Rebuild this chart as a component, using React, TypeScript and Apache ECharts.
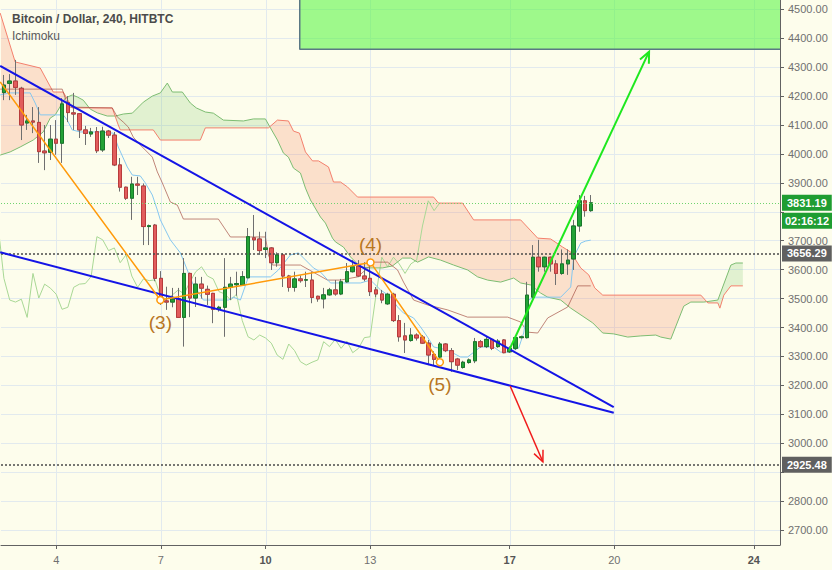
import { useEffect, useRef } from 'react';
import * as echarts from 'echarts';

// ---- time slots: 4h bars, k = 0 is Dec 4 00:00 ----
const SLOT_START_UTC = Date.UTC(2018, 11, 2, 12); // k = -9
const SLOT_HOURS = 4;
const SLOT_COUNT = 134; // k = -9 .. 124
const FIRST_K = -9;
const LABEL_DAYS = [4, 7, 10, 13, 17, 20, 24];
const BOLD_DAYS = [10, 17, 24];
const X_MIN = -9.5;
const X_MAX = 124.5;
const Y_MIN = 2648.3;
const Y_MAX = 4532.1;
// price tick labels hidden behind the price badges
const COVERED_TICKS = [3800, 2900];

// ---- candles (k = -9 .. 92) ----
const opens = [4212, 4244, 4252, 4227, 4107, 4114, 4109, 4010, 4006, 4051, 4037, 4177, 4142, 4139, 4083, 4069, 4077, 4014, 4079, 4065, 3962, 3885, 3847, 3896, 3889, 3749, 3754, 3570, 3492, 3488, 3500, 3435, 3587, 3502, 3550, 3532, 3518, 3463, 3470, 3539, 3548, 3547, 3572, 3710, 3706, 3670, 3675, 3624, 3651, 3578, 3539, 3568, 3564, 3564, 3508, 3499, 3513, 3530, 3516, 3558, 3593, 3612, 3578, 3570, 3530, 3516, 3482, 3515, 3424, 3371, 3355, 3374, 3367, 3346, 3307, 3298, 3343, 3320, 3291, 3262, 3279, 3285, 3351, 3334, 3359, 3334, 3357, 3316, 3328, 3365, 3365, 3505, 3643, 3610, 3643, 3620, 3587, 3620, 3637, 3751, 3838, 3804];
const closes = [4238, 4252, 4230, 4100, 4114, 4110, 4008, 4004, 4051, 4037, 4173, 4143, 4138, 4083, 4071, 4076, 4011, 4079, 4065, 3962, 3885, 3847, 3896, 3892, 3749, 3752, 3570, 3495, 3488, 3498, 3435, 3587, 3502, 3550, 3536, 3515, 3463, 3470, 3539, 3550, 3552, 3576, 3714, 3703, 3666, 3675, 3624, 3651, 3578, 3539, 3568, 3562, 3565, 3504, 3499, 3513, 3530, 3516, 3558, 3593, 3610, 3578, 3568, 3524, 3516, 3495, 3515, 3424, 3368, 3357, 3374, 3364, 3346, 3305, 3290, 3343, 3320, 3282, 3270, 3280, 3288, 3351, 3334, 3359, 3328, 3353, 3313, 3328, 3365, 3368, 3512, 3643, 3610, 3643, 3620, 3587, 3620, 3633, 3751, 3838, 3804, 3831.19];
const lows = [4186, 4186, 4204, 4048, 4083, 4072, 3969, 3944, 3979, 3997, 3969, 4110, 4083, 4055, 4031, 4059, 4003, 4007, 4055, 3958, 3870, 3841, 3772, 3858, 3685, 3685, 3560, 3478, 3461, 3470, 3433, 3334, 3436, 3471, 3500, 3478, 3415, 3455, 3368, 3495, 3510, 3547, 3570, 3668, 3651, 3640, 3599, 3610, 3540, 3524, 3524, 3555, 3540, 3484, 3489, 3466, 3510, 3510, 3512, 3555, 3590, 3574, 3560, 3509, 3505, 3484, 3478, 3419, 3351, 3312, 3351, 3355, 3343, 3270, 3270, 3290, 3315, 3247, 3253, 3258, 3275, 3277, 3330, 3329, 3322, 3330, 3311, 3312, 3322, 3362, 3362, 3500, 3593, 3593, 3593, 3547, 3582, 3582, 3599, 3731, 3783, 3800];
const highs = [4273, 4276, 4325, 4232, 4135, 4162, 4162, 4100, 4100, 4117, 4193, 4200, 4211, 4141, 4097, 4090, 4093, 4094, 4083, 4076, 3986, 3887, 3921, 3921, 3898, 3756, 3758, 3595, 3541, 3537, 3537, 3640, 3590, 3575, 3575, 3545, 3520, 3475, 3640, 3575, 3593, 3595, 3744, 3789, 3731, 3731, 3678, 3660, 3657, 3582, 3593, 3580, 3593, 3593, 3510, 3537, 3537, 3564, 3568, 3623, 3633, 3633, 3626, 3626, 3540, 3530, 3520, 3520, 3443, 3416, 3398, 3380, 3374, 3357, 3318, 3350, 3346, 3329, 3295, 3285, 3293, 3364, 3357, 3368, 3362, 3360, 3360, 3335, 3368, 3372, 3558, 3685, 3703, 3645, 3645, 3633, 3670, 3670, 3772, 3858, 3855, 3858];

// ---- Ichimoku lines: [k, price] ----
const tenkan = [[-9.64, 4204], [-7.92, 4211], [-4.48, 4211], [-3.62, 4176], [-2.75, 4135], [1.21, 4135], [1.89, 4117], [2.75, 4083], [4.13, 4076], [7.58, 4076], [9.81, 4072], [10.67, 4024], [12.22, 3955], [13.09, 3927], [14.46, 3924], [15.32, 3900], [16.53, 3858], [17.39, 3806], [17.91, 3772], [19.63, 3703], [21.35, 3658], [21.87, 3633], [23.42, 3554], [25.31, 3495], [29.61, 3495], [30.48, 3505], [31.68, 3495], [33.06, 3575], [36.85, 3575], [38.22, 3599], [40.29, 3651], [41.67, 3658], [44.25, 3606], [45.45, 3592], [47.18, 3554], [52.34, 3554], [54.06, 3564], [55.79, 3530], [57.51, 3506], [58.71, 3471], [59.74, 3450], [61.47, 3433], [62.67, 3402], [63.88, 3367], [64.91, 3333], [67.32, 3322], [69.56, 3298], [70.76, 3298], [73.0, 3333], [75.24, 3333], [76.45, 3315], [77.65, 3315], [78.69, 3322], [79.55, 3329], [80.41, 3381], [81.27, 3495], [82.13, 3505], [86.78, 3505], [88.5, 3540], [89.01, 3644], [90.22, 3692], [91.08, 3699], [91.94, 3702]];
const kijun = [[-9.64, 4224], [1.03, 4224], [2.07, 4162], [9.64, 4159], [10.5, 4128], [11.54, 4110], [12.4, 4093], [13.26, 4058], [14.46, 4031], [15.84, 4003], [16.53, 3989], [17.39, 3938], [18.25, 3900], [19.63, 3834], [20.83, 3823], [21.87, 3775], [27.89, 3775], [29.96, 3713], [35.98, 3713], [36.5, 3651], [37.19, 3616], [42.01, 3616], [46.66, 3564], [48.9, 3564], [51.83, 3575], [53.2, 3599], [54.58, 3626], [56.99, 3626], [58.71, 3599], [59.74, 3557], [61.47, 3495], [63.88, 3478], [67.32, 3461], [70.76, 3436], [77.65, 3436], [79.89, 3419], [81.09, 3384], [82.82, 3381], [84.54, 3433], [87.98, 3471], [89.7, 3544], [91.94, 3544]];
const senkouA = [[-9.64, 3996], [-7.92, 4007], [-6.2, 4024], [-3.96, 4048], [-2.24, 4076], [-1.03, 4124], [-0.17, 4135], [1.55, 4193], [2.75, 4204], [3.62, 4197], [4.65, 4186], [5.85, 4155], [7.06, 4142], [8.78, 4131], [10.16, 4131], [11.54, 4138], [13.09, 4141], [14.98, 4179], [16.53, 4200], [17.91, 4211], [19.11, 4245], [19.97, 4214], [21.69, 4214], [23.07, 4176], [24.1, 4159], [25.65, 4145], [27.03, 4141], [28.75, 4117], [32.2, 4114], [33.92, 4121], [35.98, 4121], [36.85, 4090], [38.05, 4048], [39.08, 4003], [39.94, 3989], [40.81, 3951], [42.01, 3934], [42.87, 3882], [43.73, 3841], [45.45, 3782], [46.31, 3761], [47.52, 3709], [48.03, 3696], [49.41, 3678], [50.62, 3644], [52.34, 3609], [54.06, 3606], [56.13, 3606], [57.85, 3613], [59.57, 3640], [60.95, 3640], [62.16, 3626], [64.05, 3644], [66.12, 3633], [68.35, 3616], [70.76, 3599], [72.49, 3575], [74.21, 3564], [76.45, 3557], [78.69, 3571], [79.89, 3554], [81.61, 3547], [83.33, 3519], [84.54, 3505], [86.78, 3495], [88.5, 3467], [92.29, 3416], [94.01, 3381], [95.9, 3378], [98.31, 3367], [100.55, 3371], [103.13, 3374], [103.99, 3367], [105.72, 3360], [107.95, 3474], [109.16, 3488], [111.4, 3488], [113.81, 3495], [116.05, 3616], [116.91, 3623], [118.11, 3623]];
const senkouB = [[-9.64, 4487], [-7.06, 4318], [-2.75, 4297], [-0.52, 4214], [1.21, 4214], [2.75, 4159], [9.64, 4159], [10.67, 4100], [11.02, 4083], [16.7, 4083], [17.91, 4048], [24.79, 4048], [25.65, 4090], [36.5, 4090], [38.05, 4117], [39.94, 4114], [40.81, 4079], [41.84, 4072], [42.87, 4007], [44.08, 3976], [45.11, 3976], [46.83, 3955], [47.69, 3903], [48.9, 3903], [50.1, 3886], [51.83, 3851], [64.91, 3851], [65.77, 3830], [69.9, 3830], [71.8, 3772], [79.89, 3772], [82.82, 3709], [85.06, 3706], [87.12, 3678], [88.5, 3661], [90.22, 3606], [91.6, 3582], [92.63, 3537], [94.01, 3512], [110.88, 3512], [112.09, 3485], [113.81, 3485], [114.16, 3467], [114.84, 3512], [116.05, 3544], [118.11, 3544]];
const CHIKOU_SHIFT = 26;

// ---- drawings: [k, price] ----
const upperTrend = [[-9.64, 4304], [95.9, 3125]];
const lowerTrend = [[-9.64, 3660], [95.9, 3105.5]];
const wavePoints = [[-9.64, 4249], [17.91, 3495], [54.06, 3625], [65.99, 3280]];
const waveLabels = ['', '(3)', '(4)', '(5)'];
const waveLabelPos = ['bottom', 'bottom', 'top', 'bottom'];
const bullArrow = [77.88, 3320.6, 101.98, 4353.4];
const bearArrow = [78.08, 3197.8, 83.71, 2936.2];
const targetZone = { left: 41.89, bottom: 4361.7 };
const LAST_PRICE = 3831.19;
const COUNTDOWN = '02:16:12';
const levelPrices = [3656.29, 2925.48];

const BG = '#fdfdec';
const GRID = '#e2eaee';
const AXIS = '#626262';
const LABEL = '#707070';
const FONT = '"Liberation Sans", Arial, sans-serif';

const categories = Array.from({ length: SLOT_COUNT }, (_, i) => {
  const d = new Date(SLOT_START_UTC + i * SLOT_HOURS * 3600e3);
  return `${d.getUTCDate()} ${String(d.getUTCHours()).padStart(2, '0')}:00`;
});
const isDayLabel = (i: number) => {
  const [day, hh] = categories[i].split(' ');
  return hh === '00:00' && LABEL_DAYS.includes(Number(day));
};
const gridKs = LABEL_DAYS.map((d) => (d - 4) * (24 / SLOT_HOURS));

function interp(pts: number[][], x: number) {
  if (x <= pts[0][0]) return pts[0][1];
  for (let i = 1; i < pts.length; i++) {
    if (x <= pts[i][0]) {
      const [x0, y0] = pts[i - 1];
      const [x1, y1] = pts[i];
      const t = x1 === x0 ? 1 : (x - x0) / (x1 - x0);
      return y0 + t * (y1 - y0);
    }
  }
  return pts[pts.length - 1][1];
}

function cloudPolygons(A: number[][], B: number[][]) {
  const lo = Math.max(A[0][0], B[0][0]);
  const hi = Math.min(A[A.length - 1][0], B[B.length - 1][0]);
  const xs = Array.from(new Set([...A, ...B].map((p) => p[0]).filter((x) => x >= lo && x <= hi))).sort((a, b) => a - b);
  const polys: { sign: number; pts: number[][] }[] = [];
  let top: number[][] = [];
  let bot: number[][] = [];
  let sign = 0;
  let px = 0, pa = 0, pb = 0;
  xs.forEach((x, i) => {
    const a = interp(A, x);
    const b = interp(B, x);
    const s = Math.sign(b - a);
    if (i > 0 && sign !== 0 && s !== 0 && s !== sign) {
      const d0 = pb - pa;
      const d1 = b - a;
      const t = d0 / (d0 - d1);
      const cx = px + t * (x - px);
      const cy = pa + t * (a - pa);
      top.push([cx, cy]);
      bot.push([cx, cy]);
      polys.push({ sign, pts: top.concat(bot.slice().reverse()) });
      top = [[cx, cy]];
      bot = [[cx, cy]];
    }
    top.push([x, a]);
    bot.push([x, b]);
    if (s !== 0) sign = s;
    px = x; pa = a; pb = b;
  });
  if (top.length > 1) polys.push({ sign, pts: top.concat(bot.slice().reverse()) });
  return polys;
}

function arrowSeries(name: string, seg: number[], color: string, width: number) {
  return {
    name,
    type: 'custom',
    xAxisIndex: 1,
    yAxisIndex: 0,
    z: 8,
    silent: true,
    clip: true,
    encode: { x: [0, 2], y: [1, 3] },
    data: [seg],
    renderItem: (_params: any, api: any) => {
      const s = api.coord([api.value(0), api.value(1)]);
      const e = api.coord([api.value(2), api.value(3)]);
      const ang = Math.atan2(e[1] - s[1], e[0] - s[0]);
      const L = 12;
      const sp = 0.42;
      const h1 = [e[0] - L * Math.cos(ang - sp), e[1] - L * Math.sin(ang - sp)];
      const h2 = [e[0] - L * Math.cos(ang + sp), e[1] - L * Math.sin(ang + sp)];
      return {
        type: 'group',
        children: [
          { type: 'line', shape: { x1: s[0], y1: s[1], x2: e[0], y2: e[1] }, style: { stroke: color, lineWidth: width } },
          { type: 'polyline', shape: { points: [h1, e, h2] }, style: { stroke: color, lineWidth: width, fill: null } },
        ],
      };
    },
  };
}

function buildOption() {
  const wickData = opens.map((o, i) => [o, closes[i], lows[i], highs[i]]);
  const bodyData = opens.map((o, i) => [o, closes[i], Math.min(o, closes[i]), Math.max(o, closes[i])]);
  const chikou = closes
    .map((c, i) => [i + FIRST_K - CHIKOU_SHIFT, c])
    .filter((p) => p[0] >= FIRST_K - 1);

  const lineSeries = (name: string, data: number[][], color: string, width = 1, z = 2) => ({
    name,
    type: 'line',
    xAxisIndex: 1,
    yAxisIndex: 0,
    data,
    symbol: 'none',
    z,
    silent: true,
    lineStyle: { color, width },
  });

  const levelLabel = (bg: string) => ({
    show: true,
    position: 'end',
    distance: 2,
    color: '#ffffff',
    fontSize: 11,
    fontWeight: 'bold',
    fontFamily: FONT,
    backgroundColor: bg,
    padding: [3, 5, 2, 5],
  });

  return {
    animation: false,
    backgroundColor: BG,
    textStyle: { fontFamily: FONT },
    title: [
      { text: 'Bitcoin / Dollar, 240, HITBTC', left: 7, top: 8, textStyle: { fontSize: 12, fontWeight: 'bold', color: '#4b4b4b', fontFamily: FONT } },
      { text: 'Ichimoku', left: 7, top: 25, textStyle: { fontSize: 12, fontWeight: 'normal', color: '#5a5a5a', fontFamily: FONT } },
    ],
    grid: { left: 1, right: 52, top: 0, bottom: 25, outerBoundsMode: 'none', containLabel: false },
    xAxis: [
      {
        type: 'category',
        data: categories,
        boundaryGap: true,
        axisLine: { onZero: false, lineStyle: { color: AXIS, width: 1 } },
        axisTick: { show: true, alignWithLabel: true, interval: (i: number) => isDayLabel(i), length: 4, lineStyle: { color: AXIS } },
        axisLabel: {
          interval: (i: number) => isDayLabel(i),
          margin: 9,
          fontSize: 11,
          color: LABEL,
          fontFamily: FONT,
          formatter: (v: string) => {
            const day = Number(v.split(' ')[0]);
            return BOLD_DAYS.includes(day) ? `{b|${day}}` : `${day}`;
          },
          rich: { b: { fontWeight: 'bold', fontSize: 11, color: '#555555', fontFamily: FONT } },
        },
        splitLine: { show: false },
      },
      { type: 'value', min: X_MIN, max: X_MAX, show: false, axisLine: { onZero: false } },
    ],
    yAxis: {
      type: 'value',
      position: 'right',
      min: Y_MIN,
      max: Y_MAX,
      splitNumber: 19,
      minInterval: 100,
      maxInterval: 100,
      axisLine: { show: true, onZero: false, lineStyle: { color: AXIS, width: 1 } },
      axisTick: { show: true, length: 4, lineStyle: { color: AXIS } },
      axisLabel: {
        formatter: (v: number) => (COVERED_TICKS.includes(Math.round(v)) ? '' : v.toFixed(2)),
        color: LABEL,
        fontSize: 11,
        margin: 8,
        fontFamily: FONT,
        showMinLabel: false,
        showMaxLabel: false,
      },
      splitLine: { show: true, showMinLine: false, showMaxLine: false, lineStyle: { color: GRID, width: 1 } },
    },
    series: [
      {
        name: 'vgrid',
        type: 'custom',
        xAxisIndex: 1,
        yAxisIndex: 0,
        z: 0,
        silent: true,
        data: gridKs.map((k) => [k, 3500]),
        renderItem: (params: any, api: any) => {
          const x = Math.round(api.coord([api.value(0), 3500])[0]) + 0.5;
          const cs = params.coordSys;
          return { type: 'line', shape: { x1: x, y1: cs.y, x2: x, y2: cs.y + cs.height }, style: { stroke: GRID, lineWidth: 1 } };
        },
      },
      {
        name: 'cloud',
        type: 'custom',
        xAxisIndex: 1,
        yAxisIndex: 0,
        z: 1,
        silent: true,
        clip: true,
        data: [[0, 3500]],
        renderItem: (_params: any, api: any) => {
          const A = senkouA.map((p) => api.coord(p));
          const B = senkouB.map((p) => api.coord(p));
          const polys = cloudPolygons(A, B);
          return {
            type: 'group',
            children: polys.map((p) => ({
              type: 'polygon',
              shape: { points: p.pts },
              style: { fill: p.sign > 0 ? 'rgba(90,185,70,0.17)' : 'rgba(245,120,80,0.21)', stroke: null },
            })),
          };
        },
      },
      lineSeries('Chikou', chikou, '#a9d895', 1, 2),
      lineSeries('Senkou A', senkouA, '#7dbd72', 1, 2),
      lineSeries('Senkou B', senkouB, '#f4806d', 1, 2),
      lineSeries('Kijun', kijun, 'rgba(160,70,60,0.65)', 1, 2),
      lineSeries('Tenkan', tenkan, '#86c8f0', 1, 2),
      {
        name: 'wicks',
        type: 'candlestick',
        xAxisIndex: 0,
        yAxisIndex: 0,
        z: 3,
        silent: true,
        barWidth: 4,
        data: wickData,
        itemStyle: { color: 'rgba(0,0,0,0)', color0: 'rgba(0,0,0,0)', borderColor: '#6f6f6f', borderColor0: '#6f6f6f', borderWidth: 1 },
      },
      {
        name: 'bodies',
        type: 'candlestick',
        xAxisIndex: 0,
        yAxisIndex: 0,
        z: 4,
        silent: true,
        barWidth: 4,
        data: bodyData,
        itemStyle: { color: '#23a236', color0: '#e25c5c', borderColor: '#17782a', borderColor0: '#b83c3c', borderWidth: 1 },
        markLine: {
          silent: true,
          symbol: ['none', 'none'],
          data: [
            { yAxis: LAST_PRICE, lineStyle: { color: '#6fd46f', type: [1, 2], width: 1 }, label: { ...levelLabel('#1f9d32'), formatter: LAST_PRICE.toFixed(2) } },
            ...levelPrices.map((p) => ({ yAxis: p, lineStyle: { color: '#4a4a4a', type: [2, 2], width: 1.5 }, label: { ...levelLabel('#606060'), formatter: p.toFixed(2) } })),
          ],
        },
      },
      {
        name: 'target',
        type: 'line',
        xAxisIndex: 1,
        yAxisIndex: 0,
        z: 5,
        silent: true,
        symbol: 'none',
        data: [[targetZone.left, Y_MAX], [targetZone.left, targetZone.bottom], [X_MAX, targetZone.bottom]],
        lineStyle: { color: '#5a7884', width: 1.5 },
        markArea: {
          silent: true,
          itemStyle: { color: 'rgba(80,245,60,0.55)' },
          data: [[{ xAxis: targetZone.left, yAxis: targetZone.bottom }, { xAxis: X_MAX, yAxis: Y_MAX }]],
        },
      },
      lineSeries('Upper trend', upperTrend, '#1414e6', 2, 6),
      lineSeries('Lower trend', lowerTrend, '#1414e6', 2, 6),
      {
        name: 'Wave',
        type: 'line',
        xAxisIndex: 1,
        yAxisIndex: 0,
        z: 7,
        silent: true,
        showAllSymbol: true,
        symbol: 'circle',
        symbolSize: 7,
        lineStyle: { color: '#ff9a0a', width: 1.5 },
        itemStyle: { color: '#ffffff', borderColor: '#ff9a0a', borderWidth: 1.5 },
        data: wavePoints.map((p, i) => ({
          value: p,
          symbol: waveLabels[i] ? 'circle' : 'none',
          label: {
            show: !!waveLabels[i],
            formatter: waveLabels[i],
            position: waveLabelPos[i],
            distance: waveLabelPos[i] === 'top' ? 4 : 9,
            fontSize: 19,
            color: '#b8761f',
            fontFamily: FONT,
          },
        })),
      },
      arrowSeries('Bull arrow', bullArrow, '#1ee81e', 2),
      arrowSeries('Bear arrow', bearArrow, '#f01c1c', 1.5),
    ],
  };
}

export default function App() {
  const ref = useRef<HTMLDivElement>(null);
  useEffect(() => {
    if (!ref.current) return;
    const chart = echarts.init(ref.current, null, { renderer: 'svg' });
    chart.setOption(buildOption() as any);
    const yLast = chart.convertToPixel({ yAxisIndex: 0 }, LAST_PRICE) as unknown as number;
    const xRight = chart.convertToPixel({ xAxisIndex: 1 }, X_MAX) as unknown as number;
    chart.setOption({
      graphic: [
        {
          type: 'group',
          x: xRight + 2,
          y: yLast + 10,
          silent: true,
          children: [
            { type: 'rect', shape: { x: 0, y: 0, width: 50, height: 16 }, style: { fill: '#1f9d32' } },
            { type: 'text', x: 25, y: 8.5, style: { text: COUNTDOWN, fill: '#ffffff', font: `bold 11px ${FONT}`, align: 'center', verticalAlign: 'middle' } },
          ],
        },
      ],
    });
    return () => chart.dispose();
  }, []);
  return <div ref={ref} style={{ position: 'fixed', left: 0, top: 0, width: 832, height: 570 }} />;
}
